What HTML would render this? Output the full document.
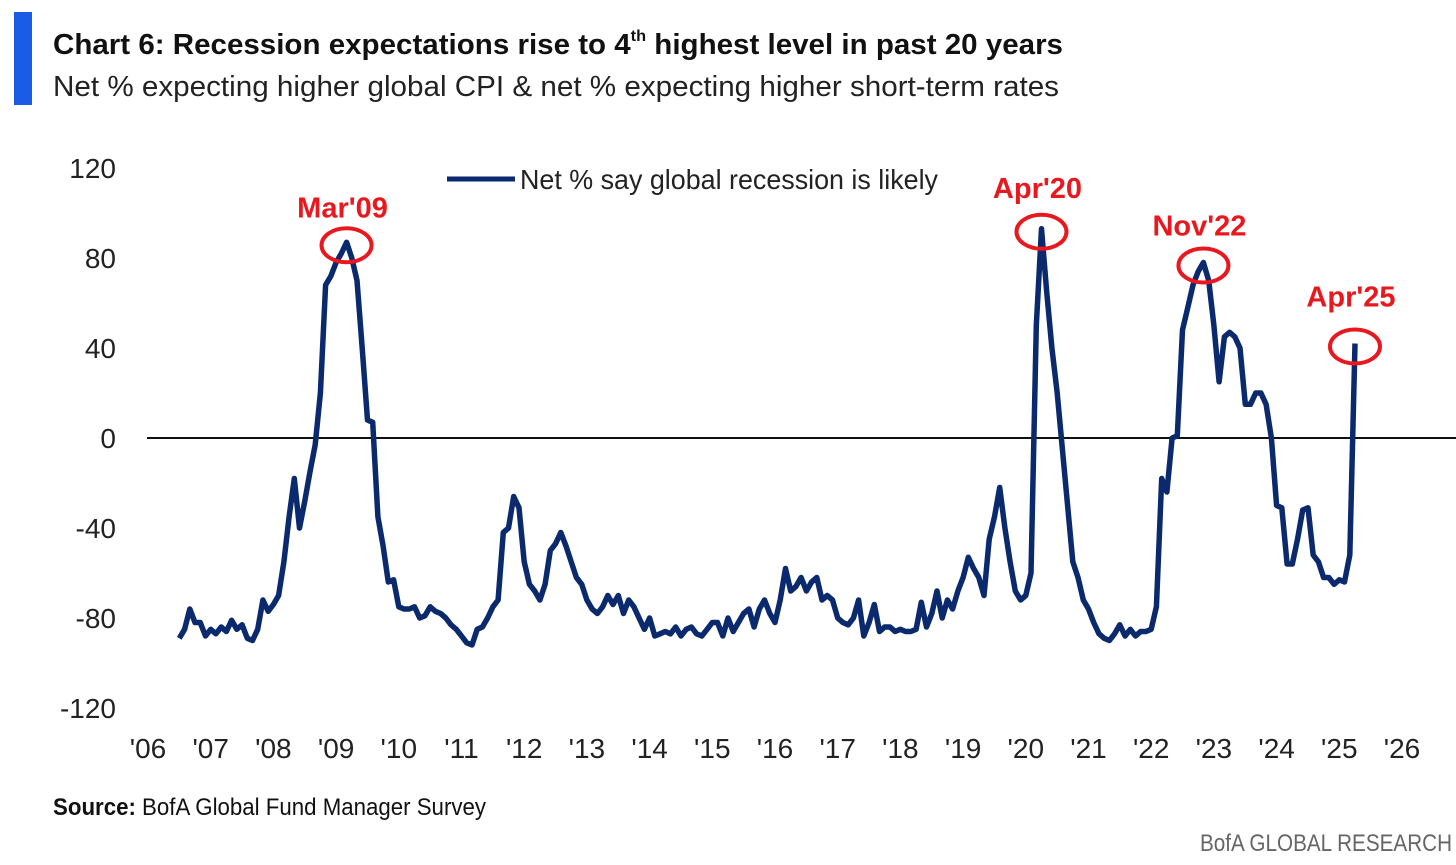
<!DOCTYPE html>
<html><head><meta charset="utf-8"><style>
body{margin:0;background:#fff;width:1456px;height:860px;overflow:hidden;font-family:"Liberation Sans",sans-serif}
svg text{font-family:"Liberation Sans",sans-serif}
</style></head><body>
<svg id="c" width="1456" height="860">
<rect x="14" y="12" width="18" height="93" fill="#1a5ce6"/>
<text x="53" y="54" font-size="29" font-weight="bold" fill="#111" textLength="1010" lengthAdjust="spacingAndGlyphs">Chart 6: Recession expectations rise to 4<tspan font-size="16" dy="-13">th</tspan><tspan dy="13"> highest level in past 20 years</tspan></text>
<text x="53" y="96" font-size="29" fill="#222" textLength="1006" lengthAdjust="spacingAndGlyphs">Net % expecting higher global CPI &amp; net % expecting higher short-term rates</text>
<g id="axes"></g>
<line x1="447" y1="179" x2="515" y2="179" stroke="#0b2a6e" stroke-width="5"/>
<text x="520" y="189" font-size="28" fill="#222" textLength="418" lengthAdjust="spacingAndGlyphs">Net % say global recession is likely</text>
<path id="series" fill="none" stroke="#0b2a6e" stroke-width="5.5" stroke-linejoin="round"/>
<g id="ann"></g>
<text x="53" y="815" font-size="24" fill="#111" textLength="433" lengthAdjust="spacingAndGlyphs"><tspan font-weight="bold">Source:</tspan> BofA Global Fund Manager Survey</text>
<text x="1452" y="851" font-size="24" fill="#666" text-anchor="end" textLength="252" lengthAdjust="spacingAndGlyphs">BofA GLOBAL RESEARCH</text>
</svg>
<script>
const yTicks=[120,80,40,0,-40,-80,-120];
const xTickLabels=["'06","'07","'08","'09","'10","'11","'12","'13","'14","'15","'16","'17","'18","'19","'20","'21","'22","'23","'24","'25","'26"];
const startYear=2006, startMonth=6; // Jul 2006
const values=[
-89,-85,-76,-82,-82,-88,
-85,-87,-84,-86,-81,-85,-83,-89,-90,-85,-72,-77,
-74,-70,-55,-35,-18,-40,-28,-15,-3,20,68,72,
78,82,87,80,70,40,8,7,-35,-48,-64,-63,
-75,-76,-76,-75,-80,-79,-75,-77,-78,-80,-83,-85,
-88,-91,-92,-85,-84,-80,-75,-72,-42,-40,-26,-31,
-55,-65,-68,-72,-65,-50,-47,-42,-48,-55,-62,-65,
-72,-76,-78,-75,-70,-74,-70,-78,-72,-75,-80,-85,
-80,-88,-87,-86,-87,-84,-88,-85,-84,-87,-88,-85,
-82,-82,-88,-80,-86,-82,-78,-76,-84,-76,-72,-78,
-82,-72,-58,-68,-66,-62,-68,-64,-62,-72,-70,-72,
-80,-82,-83,-80,-72,-88,-82,-74,-86,-84,-84,-86,
-85,-86,-86,-85,-73,-84,-78,-68,-80,-72,-76,-68,
-62,-53,-58,-62,-70,-45,-35,-22,-40,-55,-68,-72,
-70,-60,50,93,65,40,20,-5,-30,-55,-62,-72,
-76,-82,-87,-89,-90,-87,-83,-88,-85,-88,-86,-86,
-85,-75,-18,-24,0,1,48,58,68,74,78,70,
50,25,45,47,45,40,15,15,20,20,15,0,
-30,-31,-56,-56,-45,-32,-31,-52,-55,-62,-62,-65,
-63,-64,-52,42];
const annLabels=["Mar'09","Apr'20","Nov'22","Apr'25"];
const annDates=[2009+2/12,2020+3/12,2022+10/12,2025+3/12];
const annValues=[87,93,78,42];
const annLabelDy=[-28,-34,-30,-40];

const NS="http://www.w3.org/2000/svg";
const xS=t=>148+(t-2006)*62.7;
const yS=v=>438-v*2.25;
const axes=document.getElementById('axes');
function mk(tag,attrs,parent){const e=document.createElementNS(NS,tag);for(const k in attrs)e.setAttribute(k,attrs[k]);parent.appendChild(e);return e;}
yTicks.forEach(v=>{const t=mk('text',{x:116,y:yS(v)+10,'font-size':28,fill:'#222','text-anchor':'end'},axes);


t.textContent=v;});
xTickLabels.forEach((l,i)=>{const t=mk('text',{x:xS(2006+i),y:758,'font-size':28,fill:'#222','text-anchor':'middle'},axes);


t.textContent=l;});
const z=mk('line',{x1:147,x2:1456,y1:yS(0),y2:yS(0),stroke:'#111','stroke-width':2},axes);


let d='';values.forEach((v,i)=>{const t=startYear+(startMonth+i)/12;d+=(i?'L':'M')+xS(t).toFixed(1)+' '+yS(v).toFixed(1);});
document.getElementById('series').setAttribute('d',d);
const ann=document.getElementById('ann');
annLabels.forEach((l,i)=>{const cx=xS(annDates[i]),cy=yS(annValues[i])+3;
const e=mk('ellipse',{cx:cx,cy:cy,rx:25,ry:17,fill:'none',stroke:'#e8181e','stroke-width':4},ann);


const t=mk('text',{x:cx-4,y:cy+annLabelDy[i],'font-size':29,'font-weight':'bold',fill:'#e8181e','text-anchor':'middle'},ann);


t.textContent=l;});
</script>
</body></html>
